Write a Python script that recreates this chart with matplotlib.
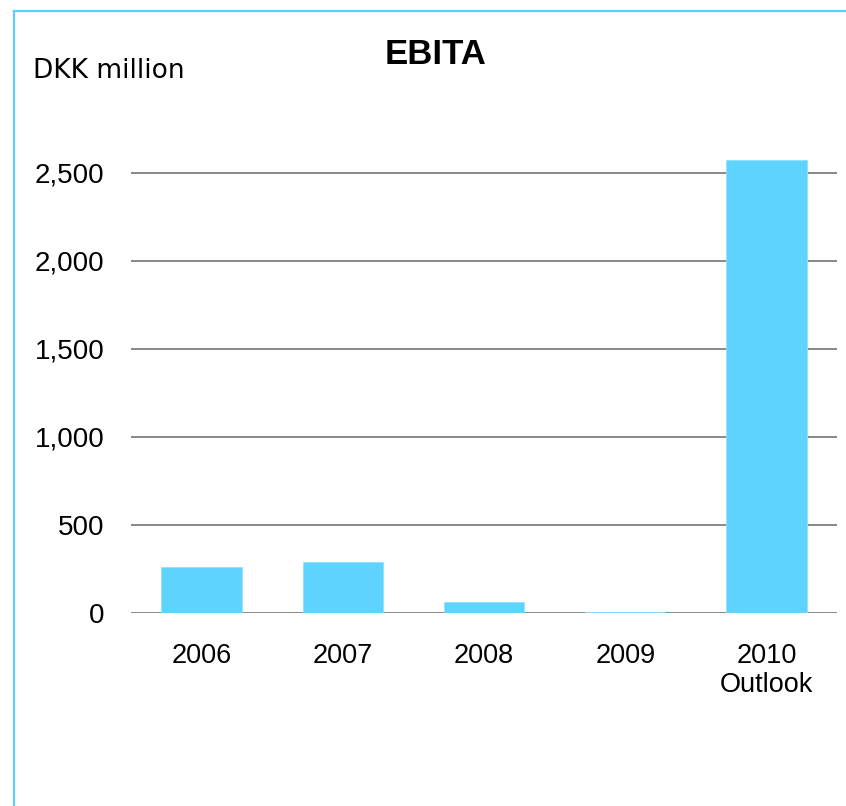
import matplotlib.pyplot as plt
from matplotlib.lines import Line2D

years = ['2006', '2007', '2008', '2009', '2010\nOutlook']
ebita = [260, 290, 63, 5, 2575]
yticks = [0, 500, 1000, 1500, 2000, 2500]
ytick_labels = ['0', '500', '1,000', '1,500', '2,000', '2,500']

bar_color = '#5dd3fe'
frame_color = '#5ccffb'
grid_color = '#888888'

W, H = 846, 806
fig = plt.figure(figsize=(W / 100, H / 100), dpi=100)
ax = fig.add_axes([131 / W, 193.3 / H, 706 / W, 527.7 / H])

x = range(len(years))
ax.bar(x, ebita, width=0.57, color=bar_color, edgecolor='#8fe0ff', linewidth=0.6, zorder=3)

ax.set_xlim(-0.5, len(years) - 0.5)
ax.set_ylim(0, 3000)
ax.set_yticks(yticks)
ax.set_yticklabels(ytick_labels, family=['Liberation Sans', 'DejaVu Sans'], fontsize=20)
ax.set_xticks(list(x))
ax.set_xticklabels(years, family=['Liberation Sans', 'DejaVu Sans'],
                   fontsize=19.5, linespacing=1.15)
ax.tick_params(axis='y', length=0, pad=19)
ax.tick_params(axis='x', length=0, pad=22)
ax.yaxis.grid(True, color=grid_color, linewidth=1.4, zorder=0)
ax.set_axisbelow(True)
for s in ax.spines.values():
    s.set_visible(False)

fig.text(436 / W, 1 - 55 / H, 'EBITA', ha='center', va='center',
         fontsize=25, fontweight='bold', family=['Liberation Sans', 'DejaVu Sans'])
fig.text(33 / W, 1 - 71 / H, 'DKK million', ha='left', va='center',
         fontsize=19, family='DejaVu Sans')

# light blue frame on the left and top edges
fig.add_artist(Line2D([13.5 / W, 13.5 / W], [0, 1 - 10.5 / H], color=frame_color,
                      linewidth=1.6, transform=fig.transFigure))
fig.add_artist(Line2D([13.5 / W, 1], [1 - 10.5 / H, 1 - 10.5 / H], color=frame_color,
                      linewidth=1.6, transform=fig.transFigure))

fig.savefig('out.png', dpi=100)
